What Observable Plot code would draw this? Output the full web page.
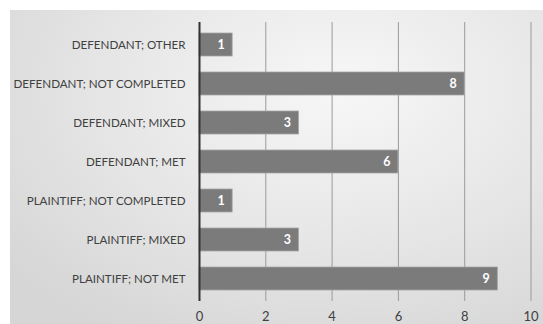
<!DOCTYPE html>
<html>
<head>
<meta charset="utf-8">
<script src="https://cdn.jsdelivr.net/npm/d3@7"></script>
<script src="https://cdn.jsdelivr.net/npm/@observablehq/plot@0.6"></script>
<style>
  html, body { margin: 0; padding: 0; background: #fff; }
  #chart { position: absolute; left: 10px; top: 10px; }
  #chart svg g[aria-label="y-axis tick label"] text { font-size: 11.6px; }
  #chart svg g[aria-label="x-axis tick label"] text { font-size: 13px; }
</style>
</head>
<body>
<div id="chart"></div>
<script>
const categories = [
  "DEFENDANT; OTHER",
  "DEFENDANT; NOT COMPLETED",
  "DEFENDANT; MIXED",
  "DEFENDANT; MET",
  "PLAINTIFF; NOT COMPLETED",
  "PLAINTIFF; MIXED",
  "PLAINTIFF; NOT MET"
];
const values = [1, 8, 3, 6, 1, 3, 9];
const xTicks = [0, 2, 4, 6, 8, 10];

const data = categories.map((c, i) => ({category: c, value: values[i]}));

const chart = Plot.plot({
  width: 533,
  height: 314,
  marginLeft: 189,
  marginRight: 12.5,
  marginTop: 12,
  marginBottom: 23,
  style: {
    fontFamily: "Lato, 'Open Sans', sans-serif",
    fontSize: "12px",
    color: "#404040",
    background: "radial-gradient(ellipse 80% 90% at 62% 25%, #f7f7f7 0%, #e6e6e6 55%, #d6d6d6 100%)"
  },
  x: {domain: [0, 10], ticks: xTicks, tickSize: 0, tickPadding: 10, tickFormat: d => String(d), label: null, grid: false},
  y: {domain: categories, paddingInner: 0.42, paddingOuter: 0.21, tickSize: 0, tickPadding: 14, label: null},
  marks: [
    Plot.ruleX(xTicks.filter(d => d > 0), {stroke: "#9a9a9a", strokeWidth: 1}),
    Plot.barX(data, {x: "value", y: "category", fill: "#7b7b7b", stroke: "#a5a5a5", strokeWidth: 0.8}),
    Plot.text(data, {x: "value", y: "category", text: d => String(d.value), textAnchor: "end", dx: -8, fill: "#ffffff", fontWeight: "bold", fontSize: 12.5}),
    Plot.ruleX([0], {stroke: "#333333", strokeWidth: 2})
  ]
});
document.getElementById("chart").appendChild(chart);
</script>
</body>
</html>
